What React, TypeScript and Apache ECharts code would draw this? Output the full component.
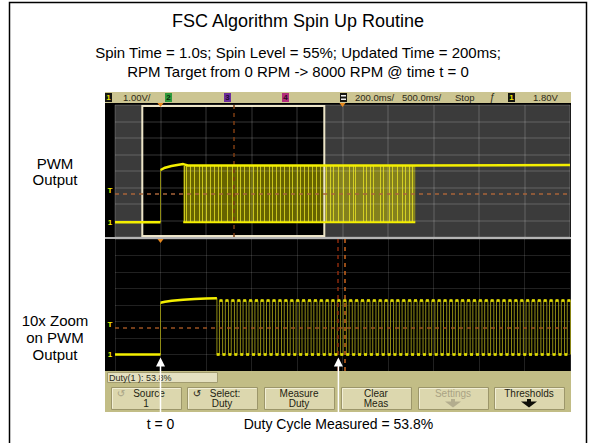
import React, { useEffect, useRef } from "react";
import * as echarts from "echarts";

const FONT = '"Liberation Sans", Arial, Helvetica, sans-serif';

// ---------- texts ----------
const titleText = "FSC Algorithm Spin Up Routine";
const subtitleLines = [
  "Spin Time = 1.0s; Spin Level = 55%; Updated Time = 200ms;",
  "RPM Target from 0 RPM -> 8000 RPM @ time t = 0",
];
const upperPanelLabel = ["PWM", "Output"];
const lowerPanelLabel = ["10x Zoom", "on PWM", "Output"];
const arrowLabels = ["t = 0", "Duty Cycle Measured = 53.8%"];

// ---------- scope status / softkeys ----------
const channelScale = "1.00V/";
const zoomTimebase = "200.0ms/";
const mainTimebase = "500.0ms/";
const runState = "Stop";
const triggerLevelText = "1.80V";
const dutyReadout = "Duty(1 ): 53.8%";
const softkeyTop = ["Source", "Select:", "Measure", "Clear", "Settings", "Thresholds"];
const softkeyBottom = ["1", "Duty", "Duty", "Meas", "", ""];

// ---------- axes (time in s, level in V) ----------
const mainTimeRange = [-0.5, 4.5]; // 500 ms/div
const mainTimeStep = 0.5;
const zoomTimeRange = [-0.2, 1.8]; // 200 ms/div (zoom window)
const zoomTimeStep = 0.2;
const voltRange = [-1, 7]; // 1 V/div
const voltStep = 1;

// ---------- main (upper) trace ----------
const mainPreTrigger = [[-0.5, -0.1], [0, -0.1]];
const mainAfterTrigger = [[0, 3.06], [0.05, 3.2], [0.12, 3.3], [0.2, 3.38], [0.25, 3.42], [0.3, 3.33], [2.8, 3.33], [4.5, 3.36]];
const mainPwmSpan = [0.25, 2.8];
const mainPwmLevels = [-0.1, 3.3];
const mainPwmEdges = [
  0.256, 0.286, 0.322, 0.366, 0.421, 0.458, 0.505, 0.549, 0.593, 0.63, 0.667, 0.733, 0.788, 0.843,
  0.879, 0.923, 0.97, 1.018, 1.062, 1.099, 1.143, 1.19, 1.227, 1.275, 1.319, 1.363, 1.41, 1.447,
  1.502, 1.538, 1.575, 1.619, 1.667, 1.714, 1.758, 1.82, 1.87, 1.9, 1.95, 2.01, 2.07, 2.12, 2.14,
  2.23, 2.26, 2.3, 2.34, 2.42, 2.45, 2.51, 2.55, 2.6, 2.66, 2.69, 2.73, 2.77,
];
const mainCursor = 0.8;
const mainDelayMarker = 2.0;

// ---------- zoomed (lower) trace ----------
const zoomPreTrigger = [[-0.2, 0], [0, 0]];
const zoomPlateau = [[0, 3.14], [0.02, 3.2], [0.05, 3.26], [0.1, 3.32], [0.15, 3.36], [0.2, 3.39], [0.248, 3.41]];
const zoomPwmRises = [
  0.259, 0.285, 0.311, 0.337, 0.363, 0.389, 0.415, 0.44, 0.466, 0.492,
  0.518, 0.544, 0.57, 0.596, 0.622, 0.648, 0.674, 0.7, 0.726, 0.751,
  0.777, 0.803, 0.829, 0.855, 0.881, 0.907, 0.933, 0.959, 0.985, 1.011,
  1.036, 1.062, 1.088, 1.114, 1.14, 1.166, 1.192, 1.218, 1.244, 1.27,
  1.296, 1.321, 1.347, 1.373, 1.399, 1.425, 1.451, 1.477, 1.503, 1.529,
  1.555, 1.581, 1.607, 1.632, 1.658, 1.684, 1.71, 1.736, 1.762, 1.788,
];
const zoomPwmLevels = [0, 3.27];
const dutyCycle = 0.538;
const zoomCursors = [0.782, 0.809];
const triggerLevel = 1.65;

const YEL = "#f4ef00";
const DIM = "#8f8b14";

function buildZoomPwm() {
  const [lo, hi] = zoomPwmLevels;
  const last = zoomPlateau[zoomPlateau.length - 1];
  const path: number[][] = [[last[0], last[1]], [last[0], lo]];
  const highDots: number[][] = [];
  const lowDots: number[][] = [];
  let prevFall = last[0];
  zoomPwmRises.forEach((r, i) => {
    const next = i < zoomPwmRises.length - 1 ? zoomPwmRises[i + 1] : r + (r - zoomPwmRises[i - 1]);
    const f = r + dutyCycle * (next - r);
    lowDots.push([(prevFall + r) / 2, lo]);
    path.push([r, lo], [r, hi], [f, hi], [f, lo]);
    highDots.push([(r + f) / 2, hi]);
    prevFall = f;
  });
  return { path, highDots, lowDots };
}

function axis(min: number, max: number, interval: number, color: string, width: number) {
  return {
    type: "value",
    min,
    max,
    interval,
    z: 3,
    axisLine: { show: false },
    axisTick: { show: false },
    axisLabel: { show: false },
    splitLine: { show: true, lineStyle: { color, width } },
  };
}

function buildOption() {
  const zp = buildZoomPwm();
  const M = { xAxisIndex: 0, yAxisIndex: 0 };
  const Z = { xAxisIndex: 1, yAxisIndex: 1 };
  const dashed = (color: string, width = 1.5) => ({ color, width, type: [4, 4] as any });
  return {
    animation: false,
    grid: [
      { left: 115, top: 105, width: 455, height: 132, show: true, backgroundColor: "#3b3b3b", borderWidth: 0 },
      { left: 115, top: 239, width: 455, height: 132, show: true, backgroundColor: "#000000", borderWidth: 0 },
    ],
    xAxis: [
      { ...axis(mainTimeRange[0], mainTimeRange[1], mainTimeStep, "rgba(255,255,255,0.14)", 1.5), gridIndex: 0 },
      { ...axis(zoomTimeRange[0], zoomTimeRange[1], zoomTimeStep, "rgba(255,255,255,0.13)", 1), gridIndex: 1 },
    ],
    yAxis: [
      { ...axis(voltRange[0], voltRange[1], voltStep, "rgba(255,255,255,0.14)", 1.5), gridIndex: 0 },
      { ...axis(voltRange[0], voltRange[1], voltStep, "rgba(255,255,255,0.13)", 1), gridIndex: 1 },
    ],
    series: [
      // zoom window (black box) in main view
      {
        type: "line", ...M, z: 1, data: [[zoomTimeRange[0], voltRange[0]]], showSymbol: false,
        lineStyle: { width: 0 }, silent: true,
        markArea: {
          silent: true,
          itemStyle: { color: "#000000" },
          data: [[{ coord: [zoomTimeRange[0], voltRange[0]] }, { coord: [zoomTimeRange[1], voltRange[1]] }]],
        },
      },
      // unresolved PWM band in main view
      {
        type: "line", ...M, z: 2, data: [[mainPwmSpan[0], mainPwmLevels[0]]], showSymbol: false,
        lineStyle: { width: 0 }, silent: true,
        markArea: {
          silent: true,
          itemStyle: { color: "rgba(205,200,0,0.50)" },
          data: [[{ coord: [mainPwmSpan[0], mainPwmLevels[0]] }, { coord: [mainPwmSpan[1], mainPwmLevels[1]] }]],
        },
      },
      {
        type: "lines", coordinateSystem: "cartesian2d", ...M, z: 4, silent: true,
        lineStyle: { color: "rgba(245,240,40,0.7)", width: 1, opacity: 1 },
        data: mainPwmEdges.map((t) => ({ coords: [[t, mainPwmLevels[0]], [t, mainPwmLevels[1]]] })),
      },
      {
        type: "lines", coordinateSystem: "cartesian2d", ...M, z: 4, silent: true,
        lineStyle: { color: DIM, width: 1, opacity: 1 },
        data: [{ coords: [mainPreTrigger[1], mainAfterTrigger[0]] }],
      },
      { type: "line", ...M, z: 5, data: mainPreTrigger, showSymbol: false, lineStyle: { color: YEL, width: 2.5 } },
      { type: "line", ...M, z: 5, data: mainAfterTrigger, showSymbol: false, lineStyle: { color: YEL, width: 2.5 } },
      {
        type: "line", ...M, z: 5, showSymbol: false, lineStyle: { color: YEL, width: 2 },
        data: [[mainPwmSpan[0], mainPwmLevels[0]], [mainPwmSpan[1], mainPwmLevels[0]]],
        markLine: {
          silent: true, symbol: "none", label: { show: false },
          data: [
            { yAxis: triggerLevel, lineStyle: dashed("#a8643a") },
            { xAxis: mainCursor, lineStyle: dashed("#7e3c12") },
          ],
        },
      },
      // zoom window border on top
      {
        type: "line", ...M, z: 6, data: [[zoomTimeRange[0], voltRange[0]]], showSymbol: false,
        lineStyle: { width: 0 }, silent: true,
        markArea: {
          silent: true,
          itemStyle: { color: "rgba(0,0,0,0)", borderColor: "#ece4c6", borderWidth: 2 },
          data: [[{ coord: [zoomTimeRange[0], voltRange[0] + 0.06] }, { coord: [zoomTimeRange[1], voltRange[1] - 0.06] }]],
        },
      },
      // ----- zoomed view -----
      {
        type: "line", ...Z, z: 4, data: zp.path, showSymbol: false, lineStyle: { color: DIM, width: 1 },
        markLine: {
          silent: true, symbol: "none", label: { show: false },
          data: [
            { yAxis: triggerLevel, lineStyle: dashed("#9a5222") },
            { xAxis: zoomCursors[0], lineStyle: dashed("#8a2a0c") },
            { xAxis: zoomCursors[1], lineStyle: dashed("#c8641e") },
          ],
        },
      },
      {
        type: "lines", coordinateSystem: "cartesian2d", ...Z, z: 4, silent: true,
        lineStyle: { color: DIM, width: 1, opacity: 1 },
        data: [{ coords: [zoomPreTrigger[1], zoomPlateau[0]] }],
      },
      { type: "line", ...Z, z: 5, data: zoomPreTrigger, showSymbol: false, lineStyle: { color: YEL, width: 2.5 } },
      { type: "line", ...Z, z: 5, data: zoomPlateau, showSymbol: false, lineStyle: { color: YEL, width: 2.5 } },
      { type: "scatter", ...Z, z: 5, data: zp.highDots, symbol: "rect", symbolSize: [3, 3], itemStyle: { color: YEL }, silent: true },
      { type: "scatter", ...Z, z: 5, data: zp.lowDots, symbol: "rect", symbolSize: [3, 3], itemStyle: { color: YEL }, silent: true },
    ],
  };
}

function txt(x: number, y: number, text: string, size: number, extra: any = {}) {
  return {
    type: "text", x, y, z: 40, silent: true,
    style: {
      text, fontSize: size, fontFamily: FONT, fill: "#000", textAlign: "center", textVerticalAlign: "middle",
      ...extra,
    },
  };
}

function buildGraphic(chart: any) {
  const px = (grid: number, v: number[]) => chart.convertToPixel({ gridIndex: grid }, v) as number[];
  const g: any[] = [];
  // frame
  g.push({ type: "rect", z: 0, shape: { x: 9.5, y: 2.5, width: 577, height: 470 }, style: { fill: "none", stroke: "#000", lineWidth: 1.5 } });
  // title
  g.push(txt(298, 21, titleText, 18));
  subtitleLines.forEach((s, i) => g.push(txt(298, 52 + i * 19, s, 15)));
  upperPanelLabel.forEach((s, i) => g.push(txt(55, 163 + i * 16.5, s, 15)));
  lowerPanelLabel.forEach((s, i) => g.push(txt(55, 320 + i * 17, s, 15)));

  // scope body
  g.push({ type: "rect", z: -1, shape: { x: 105, y: 92, width: 466, height: 320 }, style: { fill: "#000" } });
  // status bar
  g.push({ type: "rect", z: 20, shape: { x: 105, y: 92, width: 466, height: 11 }, style: { fill: "#ccc592" } });
  const chip = (x: number, bg: string, fg: string, t: string) => {
    g.push({ type: "rect", z: 21, shape: { x, y: 93, width: 7, height: 9 }, style: { fill: bg } });
    g.push(txt(x + 3.5, 97.7, t, 8, { fill: fg, fontWeight: "bold" }));
  };
  chip(105, "#151510", "#efe600", "1");
  chip(165, "#2f9a3c", "#0b2b0b", "2");
  chip(224, "#6c2c9c", "#1c0c2c", "3");
  chip(282, "#b22c7c", "#2c0a1c", "4");
  g.push({ type: "rect", z: 21, shape: { x: 340, y: 93, width: 7, height: 9 }, style: { fill: "#151510" } });
  g.push({ type: "rect", z: 22, shape: { x: 341, y: 95, width: 5, height: 1.5 }, style: { fill: "#eee" } });
  g.push({ type: "rect", z: 22, shape: { x: 341, y: 98.5, width: 5, height: 1.5 }, style: { fill: "#eee" } });
  const sb = { fill: "#2c2a18", textAlign: "left" };
  g.push(txt(123, 97.7, channelScale, 9.5, sb));
  g.push(txt(355, 97.7, zoomTimebase, 9.5, sb));
  g.push(txt(402, 97.7, mainTimebase, 9.5, sb));
  g.push(txt(455, 97.7, runState, 9.5, sb));
  g.push(txt(492, 97.7, "\u0192", 10, { fill: "#2c2a18", fontStyle: "italic" }));
  chip(508, "#151510", "#efe600", "1");
  g.push(txt(533, 97.7, triggerLevelText, 9.5, sb));

  // separator between views
  g.push({ type: "rect", z: 20, shape: { x: 105, y: 237, width: 466, height: 2 }, style: { fill: "#b4b4b4" } });

  // time reference markers
  const tri = (x: number, y: number, color: string) =>
    g.push({ type: "polygon", z: 25, shape: { points: [[x - 3, y], [x + 3, y], [x, y + 4]] }, style: { fill: color } });
  const m0 = px(0, [0, 0]);
  const m1 = px(0, [mainDelayMarker, 0]);
  const z0 = px(1, [0, 0]);
  tri(m0[0], 103, "#e8891e");
  tri(m1[0], 103, "#e8891e");
  tri(z0[0], 239, "#e8891e");

  // ground / trigger markers in the left strip
  const mg = px(0, [0, mainPwmLevels[0]]);
  const mt = px(0, [0, triggerLevel]);
  const zg = px(1, [0, zoomPwmLevels[0]]);
  const zt = px(1, [0, triggerLevel]);
  [mg, zg].forEach((p) => g.push(txt(110, p[1], "1", 8, { fill: YEL, fontWeight: "bold" })));
  [mt, zt].forEach((p) => g.push(txt(110, p[1] - 3, "T", 8, { fill: YEL, fontWeight: "bold" })));

  // softkey area
  g.push({ type: "rect", z: 20, shape: { x: 105, y: 371, width: 466, height: 41 }, style: { fill: "#c2bd86" } });
  g.push({ type: "rect", z: 21, shape: { x: 107.5, y: 372.5, width: 110, height: 10 }, style: { fill: "#e4e0c0", stroke: "#a29c70", lineWidth: 1 } });
  g.push(txt(109, 377.8, dutyReadout, 9, { fill: "#2a2a1a", textAlign: "left" }));
  const bx = [111, 187, 264, 341, 418, 494];
  bx.forEach((x, i) => {
    const w = 70;
    const disabled = i === 4;
    g.push({ type: "rect", z: 21, shape: { x: x + 0.5, y: 387.5, width: w, height: 22 }, style: { fill: "#dcd7ae", stroke: "#9c966a", lineWidth: 1 } });
    g.push({ type: "polyline", z: 22, shape: { points: [[x + 1.5, 408.5], [x + 1.5, 388.5], [x + w - 0.5, 388.5]] }, style: { stroke: "#f2efd6", lineWidth: 1, fill: "none" } });
    const cx = x + w / 2;
    const col = disabled ? "#aaa384" : "#1e1e12";
    g.push(txt(cx + (i < 2 ? 3 : 0), 393, softkeyTop[i], 10, { fill: col }));
    if (softkeyBottom[i]) g.push(txt(cx, 403.5, softkeyBottom[i], 10, { fill: col }));
    if (i >= 4) {
      g.push({
        type: "polygon", z: 23,
        shape: { points: [[cx - 2, 399], [cx + 2, 399], [cx + 2, 401.5], [cx + 8, 401.5], [cx, 407.5], [cx - 8, 401.5], [cx - 2, 401.5]] },
        style: { fill: disabled ? "#b3ad8e" : "#0e0e08" },
      });
    }
    if (i < 2) g.push(txt(x + 10, 393, "\u21BA", 10, { fill: i === 0 ? "#a8a284" : "#1e1e12", fontFamily: "DejaVu Sans" }));
  });

  // arrows
  const arrowTimes = [0, zoomCursors[0]];
  arrowTimes.forEach((t, i) => {
    const p = px(1, [t, zoomPwmLevels[0]]);
    const x = p[0];
    const tip = p[1] + 3;
    g.push({ type: "line", z: 45, shape: { x1: x, y1: tip + 8, x2: x, y2: 413 }, style: { stroke: "#fff", lineWidth: 1.5 } });
    g.push({ type: "polygon", z: 45, shape: { points: [[x, tip], [x - 4.5, tip + 9], [x + 4.5, tip + 9]] }, style: { fill: "#fff" } });
    g.push(txt(x, 424, arrowLabels[i], 14));
  });
  return g;
}

export default function App() {
  const ref = useRef<HTMLDivElement>(null);
  useEffect(() => {
    const chart = echarts.init(ref.current!, null, { renderer: "svg" });
    chart.setOption(buildOption() as any);
    chart.setOption({ graphic: buildGraphic(chart) } as any);
    return () => chart.dispose();
  }, []);
  return (
    <div
      ref={ref}
      style={{ position: "fixed", left: 0, top: 0, width: 593, height: 443, background: "#fff" }}
    />
  );
}
